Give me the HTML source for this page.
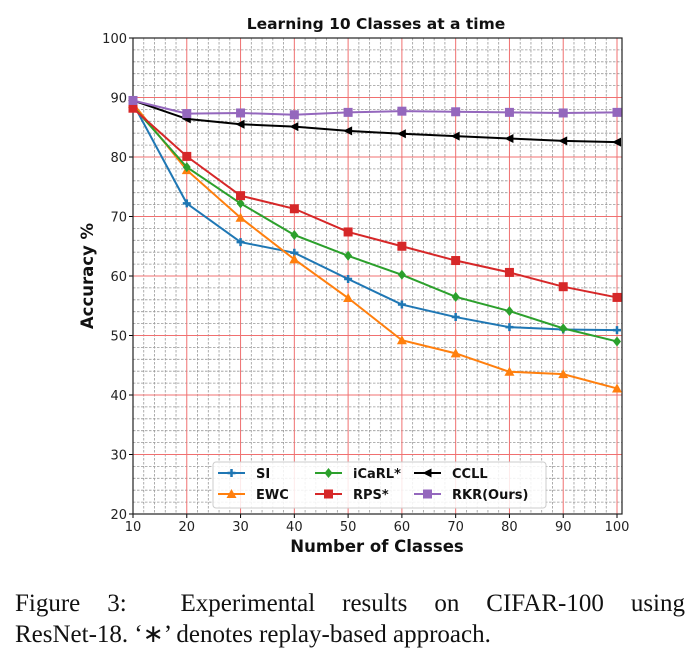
<!DOCTYPE html>
<html><head><meta charset="utf-8"><style>
body{margin:0;background:#fff;width:697px;height:668px;overflow:hidden;position:relative}
#cap{position:absolute;left:15px;top:588px;width:670px;font-family:"Liberation Serif",serif;font-size:25px;line-height:31px;text-align:justify;text-align-last:justify;color:#111;white-space:nowrap}
#cap2{position:absolute;left:15px;top:619px;font-family:"Liberation Serif",serif;font-size:25px;line-height:31px;color:#111}
</style></head><body>
<svg id="chart" width="697" height="580" style="position:absolute;left:0;top:0" font-family="DejaVu Sans, sans-serif"></svg>
<div id="cap">Figure 3: &nbsp;Experimental results on CIFAR-100 using</div>
<div id="cap2">ResNet-18. ‘∗’ denotes replay-based approach.</div>
<script>
const categories=[10,20,30,40,50,60,70,80,90,100];
const siVals=[89,72.2,65.7,63.9,59.5,55.2,53.1,51.4,51.0,50.9];
const ewcVals=[89,77.8,69.8,62.8,56.3,49.2,47.0,43.9,43.5,41.1];
const icarlVals=[88.5,78.3,72.2,66.9,63.4,60.2,56.5,54.1,51.2,49.0];
const rpsVals=[88.2,80.1,73.5,71.3,67.4,65.0,62.6,60.6,58.2,56.4];
const ccllVals=[89.5,86.4,85.5,85.1,84.4,83.9,83.5,83.1,82.7,82.5];
const rkrVals=[89.5,87.3,87.4,87.1,87.5,87.7,87.6,87.5,87.4,87.5];
const xTicks=[10,20,30,40,50,60,70,80,90,100];
const yTicks=[20,30,40,50,60,70,80,90,100];
const svg=document.getElementById('chart');
const NS='http://www.w3.org/2000/svg';
const L=133,R=622,T=38,B=514;
const X=v=>133+(v-10)*(617-133)/90;
const Y=v=>514-(v-20)*(B-T)/80;
function mk(t,a,p){const e=document.createElementNS(NS,t);for(const k in a)e.setAttribute(k,a[k]);(p||svg).appendChild(e);return e;}
for(let v=12;v<101;v+=2){if(v%10){const l=mk('line',{x1:X(v),x2:X(v),y1:T,y2:B,stroke:'#999','stroke-width':0.8,'stroke-dasharray':'2.5,1.5'});

}}
for(let v=22;v<100;v+=2){if(v%10){const l=mk('line',{x1:L,x2:R,y1:Y(v),y2:Y(v),stroke:'#999','stroke-width':0.8,'stroke-dasharray':'2.5,1.5'});

}}
xTicks.forEach(v=>{const l=mk('line',{x1:X(v),x2:X(v),y1:T,y2:B,stroke:'#f07070','stroke-width':1});


mk('line',{x1:X(v),x2:X(v),y1:B,y2:B+4,stroke:'#000'});
const t=mk('text',{x:X(v),y:B+17,'text-anchor':'middle','font-size':13,fill:'#222'});t.textContent=v;

});
yTicks.forEach(v=>{const l=mk('line',{x1:L,x2:R,y1:Y(v),y2:Y(v),stroke:'#f07070','stroke-width':1});


mk('line',{x1:L-4,x2:L,y1:Y(v),y2:Y(v),stroke:'#000'});
const t=mk('text',{x:L-6,y:Y(v)+5,'text-anchor':'end','font-size':13,fill:'#222'});t.textContent=v;

});
const fr=mk('rect',{x:L,y:T,width:R-L,height:B-T,fill:'none',stroke:'#222','stroke-width':1.2});


function marker(g,type,x,y,c){
 if(type==='plus'){mk('path',{d:`M${x-4},${y}H${x+4}M${x},${y-4}V${y+4}`,stroke:c,'stroke-width':2.5},g);}
 else if(type==='tri'){mk('polygon',{points:`${x},${y-5} ${x-5},${y+4} ${x+5},${y+4}`,fill:c},g);}
 else if(type==='dia'){mk('polygon',{points:`${x},${y-5} ${x+4},${y} ${x},${y+5} ${x-4},${y}`,fill:c},g);}
 else if(type==='sq'){mk('rect',{x:x-4.5,y:y-4.5,width:9,height:9,fill:c},g);}
 else if(type==='left'){mk('polygon',{points:`${x-5},${y} ${x+4},${y-4.5} ${x+4},${y+4.5}`,fill:c},g);}
}
const series=[['si',siVals,'#1f77b4','plus'],['ewc',ewcVals,'#ff7f0e','tri'],['icarl',icarlVals,'#2ca02c','dia'],['rps',rpsVals,'#d62728','sq'],['ccll',ccllVals,'#000','left'],['rkr',rkrVals,'#9467bd','sq']];
series.forEach(([n,vals,c,m])=>{const g=mk('g',{});


mk('polyline',{points:vals.map((v,i)=>X(categories[i])+','+Y(v)).join(' '),fill:'none',stroke:c,'stroke-width':2},g);
vals.forEach((v,i)=>marker(g,m,X(categories[i]),Y(v),c));});
const lg=mk('g',{});


mk('rect',{x:213,y:462,width:333,height:46,rx:3,fill:'rgba(255,255,255,0.85)',stroke:'#ccc'},lg);
const names=['SI','EWC','iCaRL*','RPS*','CCLL','RKR(Ours)'];
const pos=[[218,473],[218,494],[315,473],[315,494],[414,473],[414,494]];
series.forEach((s,i)=>{const [x,y]=pos[i];const e=mk('g',{},lg);


mk('line',{x1:x,x2:x+27,y1:y,y2:y,stroke:s[2],'stroke-width':2},e);marker(e,s[3],x+13.5,y,s[2]);
const t=mk('text',{x:x+38,y:y+5,'font-size':13,'font-weight':'bold',fill:'#111'},e);t.textContent=names[i];});
let t=mk('text',{x:376,y:29,'text-anchor':'middle','font-size':15.5,'font-weight':'bold',fill:'#111'});t.textContent='Learning 10 Classes at a time';

t=mk('text',{x:377,y:552,'text-anchor':'middle','font-size':16.5,'font-weight':'bold',fill:'#111'});t.textContent='Number of Classes';

t=mk('text',{x:93,y:276,'text-anchor':'middle','font-size':16.5,'font-weight':'bold',fill:'#111',transform:'rotate(-90 93 276)'});t.textContent='Accuracy %';

</script>
</body></html>
